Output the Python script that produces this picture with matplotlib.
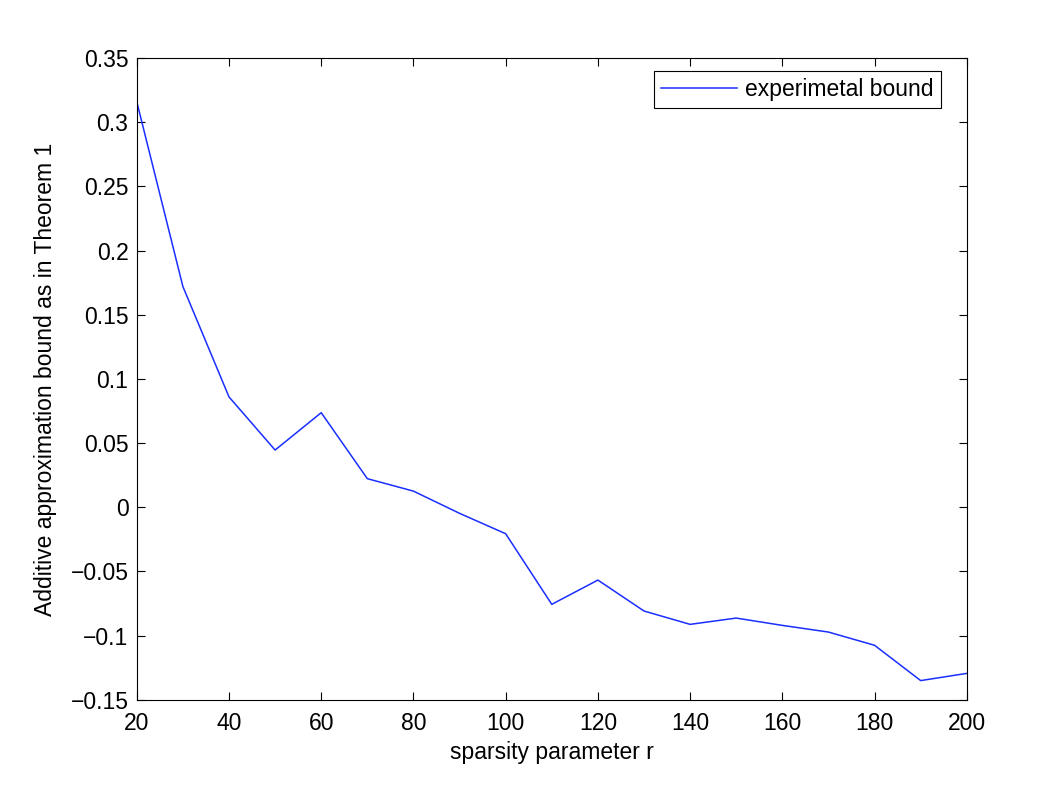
import matplotlib
matplotlib.use("Agg")
import matplotlib.pyplot as plt
import numpy as np

r_values = [20, 30, 40, 50, 60, 70, 80, 90, 100, 110, 120, 130, 140, 150, 160, 170, 180, 190, 200]
bound_values = [0.316, 0.172, 0.086, 0.0446, 0.0737, 0.0223, 0.0126, -0.0047, -0.0206,
                -0.0756, -0.0567, -0.0808, -0.0912, -0.0863, -0.092, -0.0972, -0.1075,
                -0.135, -0.1294]
x_ticks = [20, 40, 60, 80, 100, 120, 140, 160, 180, 200]
y_ticks = [-0.15, -0.1, -0.05, 0, 0.05, 0.1, 0.15, 0.2, 0.25, 0.3, 0.35]
y_tick_labels = ["\u22120.15", "\u22120.1", "\u22120.05", "0", "0.05", "0.1", "0.15", "0.2", "0.25", "0.3", "0.35"]

plt.rcParams['font.family'] = ['Liberation Sans', 'DejaVu Sans']
FS = 16.5
plt.rcParams['font.size'] = FS

fig = plt.figure(figsize=(10.52, 7.89), dpi=100)
ax = fig.add_axes([0.130, 0.113, 0.789, 0.8135])
ax.plot(r_values, bound_values, color='#1a2fff', lw=1.1, label='experimetal bound')
ax.set_xlim(20, 200)
ax.set_ylim(-0.15, 0.35)
ax.set_xticks(x_ticks)
ax.set_yticks(y_ticks)
ax.set_yticklabels(y_tick_labels)
ax.tick_params(direction='in', top=True, right=True, length=6, width=0.8, labelsize=FS)
ax.tick_params(axis='x', pad=9)
ax.tick_params(axis='y', pad=6)
for s in ax.spines.values():
    s.set_linewidth(0.8)
ax.set_xlabel('sparsity parameter r', fontsize=FS, labelpad=4)
ax.set_ylabel('Additive approximation bound as in Theorem 1', fontsize=FS, labelpad=10)
leg = ax.legend(loc='upper right', bbox_to_anchor=(0.9687, 0.9798), fontsize=FS,
                fancybox=False, framealpha=1, edgecolor='black', handlelength=3.35,
                borderaxespad=0.0, borderpad=0.3, handletextpad=0.35)
leg.get_frame().set_linewidth(0.8)
fig.savefig('out.png', dpi=100)
